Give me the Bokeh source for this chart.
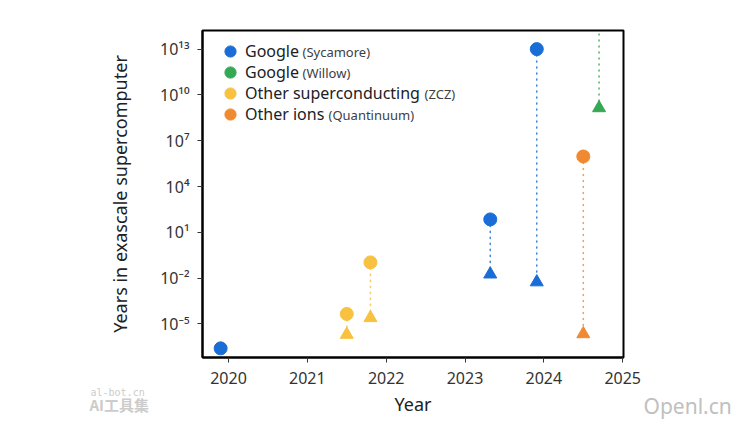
from bokeh.plotting import figure
from bokeh.models import Range1d, FixedTicker, Legend, LegendItem, Label
from bokeh.embed import file_html
from bokeh.resources import INLINE

FONT = "Noto Sans"

# ---- data ----
syc_years = [2019.9, 2023.32, 2023.91]
syc_classical = [2.5e-7, 70.0, 1e13]
syc_quantum = [float("nan"), 0.018, 0.0055]

willow_years = [2024.7]
willow_classical = [1e25]
willow_quantum = [1.4e9]

zcz_years = [2021.5, 2021.8]
zcz_classical = [4.5e-5, 0.107]
zcz_quantum = [2.0e-6, 2.5e-5]

qtm_years = [2024.5]
qtm_classical = [9.3e5]
qtm_quantum = [2.2e-6]

series_names = ["Google", "Google", "Other superconducting", "Other ions"]
series_notes = ["(Sycamore)", "(Willow)", "(ZCZ)", "(Quantinuum)"]
series_colors = ["#1a6dd6", "#34a853", "#f8c240", "#f08a32"]

x_ticks = [2020, 2021, 2022, 2023, 2024, 2025]
y_ticks = [1e-5, 1e-2, 1e1, 1e4, 1e7, 1e10, 1e13]
y_tick_labels = ["10⁻⁵", "10⁻²", "10¹", "10⁴", "10⁷", "10¹⁰", "10¹³"]

p = figure(width=750, height=421, y_axis_type="log",
           x_range=Range1d(2019.67, 2025.01),
           y_range=Range1d(10 ** -7.2, 10 ** 14.22),
           output_backend="svg", toolbar_location=None,
           min_border_left=202, min_border_right=127,
           min_border_top=30, min_border_bottom=64)
p.grid.visible = False
p.outline_line_color = "black"
p.outline_line_width = 2
p.background_fill_color = "white"
p.border_fill_color = "white"

data = [
    (syc_years, syc_classical, syc_quantum),
    (willow_years, willow_classical, willow_quantum),
    (zcz_years, zcz_classical, zcz_quantum),
    (qtm_years, qtm_classical, qtm_quantum),
]

circle_renderers = []
for (yrs, cl, qu), col in zip(data, series_colors):
    p.segment(x0=yrs, y0=cl, x1=yrs, y1=qu, line_color=col, line_width=1.6,
              line_dash="1 5", line_cap="round", line_alpha=0.8)
for (yrs, cl, qu), col in zip(data, series_colors):
    c = p.scatter(yrs, cl, marker="circle", size=13, color=col)
    p.scatter(yrs, qu, marker="triangle", size=13, color=col)
    circle_renderers.append(c)

# legend: one small legend per entry so rows can sit 21 px apart
legend_bottoms = [292, 271, 250, 229]
for n, r, vy in zip(series_names, circle_renderers, legend_bottoms):
    lg = Legend(items=[LegendItem(label=n, renderers=[r])], location=(13, vy),
                margin=0, padding=0, glyph_width=30, glyph_height=28,
                label_height=28, spacing=0, label_standoff=0,
                background_fill_alpha=0, border_line_alpha=0,
                label_text_font=FONT, label_text_font_size="16px",
                label_text_color="#202124")
    p.add_layout(lg)

# parenthetical parts of the legend entries (smaller type)
note_x = [100, 100, 222, 126]
note_y = [306, 285, 264, 243]
for t, xx, yy in zip(series_notes, note_x, note_y):
    p.add_layout(Label(x=xx, y=yy, x_units="screen", y_units="screen", text=t,
                       text_font=FONT, text_font_size="13px", text_color="#3c4043",
                       text_baseline="middle"))

# axes
p.xaxis.ticker = FixedTicker(ticks=x_ticks)
p.yaxis.ticker = FixedTicker(ticks=y_ticks)
p.yaxis.major_label_overrides = dict(zip(y_ticks, y_tick_labels))
p.axis.minor_tick_line_color = None
p.axis.major_tick_in = 0
p.axis.major_tick_out = 5
p.axis.major_tick_line_color = "#333333"
p.axis.axis_line_color = "black"
p.axis.axis_line_width = 2
p.axis.major_label_text_font = FONT
p.axis.major_label_text_font_size = "16px"
p.axis.major_label_text_color = "#333333"
p.axis.axis_label_text_font = FONT
p.axis.axis_label_text_font_size = "18px"
p.axis.axis_label_text_font_style = "normal"
p.axis.axis_label_text_color = "#202124"
p.xaxis.axis_label = "Year"
p.yaxis.axis_label = "Years in exascale supercomputer"
p.xaxis.major_label_standoff = 9
p.xaxis.axis_label_standoff = 5
p.yaxis.major_label_standoff = 8
p.yaxis.axis_label_standoff = 25

# watermarks, placed in the empty side margins so they are not clipped by the frame
p.add_layout(Label(x=-112, y=-362, x_units="screen", y_units="screen",
                   text="al-bot.cn", text_font="DejaVu Sans Mono", text_font_size="10px",
                   text_color="#cccccc", text_baseline="middle"), "above")
p.add_layout(Label(x=45, y=-47, x_units="screen", y_units="screen",
                   text="AI工具集", text_font="Noto Sans CJK SC", text_font_size="15px",
                   text_font_style="bold", text_color="#cccccc",
                   text_baseline="middle"), "left")
p.add_layout(Label(x=20, y=-48, x_units="screen", y_units="screen", text="Openl.cn",
                   text_font=FONT, text_font_size="21px",
                   text_color="#c0c0c0", text_baseline="middle"), "right")

open("out.html", "w").write(file_html(p, INLINE))
